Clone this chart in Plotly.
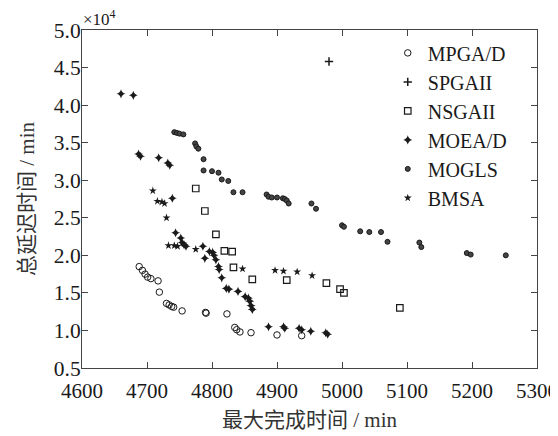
import plotly.graph_objects as go

# Data (y in units of 10^4 min)
mpga_x = [4688, 4693, 4697, 4701, 4706, 4717, 4719, 4730, 4734, 4738, 4741, 4754, 4790, 4791, 4823, 4835, 4838, 4843, 4860, 4900, 4938]
mpga_y = [1.85, 1.80, 1.75, 1.71, 1.69, 1.66, 1.51, 1.36, 1.34, 1.32, 1.31, 1.26, 1.24, 1.23, 1.22, 1.04, 1.01, 0.98, 0.97, 0.94, 0.93]

spga_x = [4980]
spga_y = [4.58]

nsga_x = [4775, 4789, 4806, 4819, 4831, 4833, 4862, 4915, 4976, 4997, 5003, 5089]
nsga_y = [2.89, 2.59, 2.28, 2.06, 2.05, 1.84, 1.68, 1.67, 1.63, 1.55, 1.50, 1.30]

moead_x = [4660, 4679, 4687, 4690, 4718, 4732, 4735, 4739, 4744, 4752, 4754, 4757, 4760, 4786, 4796, 4801,
           4789, 4803, 4806, 4810, 4811, 4815, 4822, 4826, 4840, 4851, 4856, 4858, 4860, 4862,
           4887, 4910, 4912, 4934, 4938, 4952, 4975, 4978]
moead_y = [4.15, 4.13, 3.35, 3.32, 3.30, 3.23, 3.20, 2.76, 2.30, 2.23, 2.17, 2.14, 2.12, 2.12, 2.05, 2.04,
           1.96, 2.00, 1.94, 1.85, 1.81, 1.70, 1.56, 1.55, 1.52, 1.45, 1.43, 1.39, 1.33, 1.28,
           1.05, 1.05, 1.03, 1.03, 1.01, 0.99, 0.97, 0.95]

mogls_x = [4742, 4746, 4750, 4756, 4774, 4776, 4779, 4787, 4787, 4800, 4810, 4815, 4825, 4833, 4847,
           4884, 4887, 4892, 4900, 4909, 4912, 4915, 4918, 4953, 4960, 5000, 5003, 5028, 5042, 5060,
           5070, 5119, 5122, 5192, 5198, 5252]
mogls_y = [3.64, 3.63, 3.62, 3.61, 3.49, 3.45, 3.42, 3.28, 3.13, 3.12, 3.10, 3.01, 2.99, 2.84, 2.84,
           2.81, 2.78, 2.77, 2.77, 2.76, 2.75, 2.73, 2.69, 2.69, 2.62, 2.40, 2.38, 2.32, 2.31, 2.31,
           2.18, 2.17, 2.11, 2.03, 2.01, 2.00]

bmsa_x = [4709, 4716, 4723, 4727, 4730, 4733, 4742, 4747, 4775, 4847, 4897, 4910, 4931, 4954]
bmsa_y = [2.86, 2.72, 2.71, 2.69, 2.50, 2.13, 2.13, 2.12, 2.08, 1.82, 1.80, 1.79, 1.78, 1.73]

x_ticks = [4600, 4700, 4800, 4900, 5000, 5100, 5200, 5300]
y_ticks = [0.5, 1.0, 1.5, 2.0, 2.5, 3.0, 3.5, 4.0, 4.5, 5.0]

FONT = "Liberation Serif, Times New Roman, Noto Sans CJK SC, serif"
INK = "#1a1a1a"

fig = go.Figure()
fig.add_trace(go.Scatter(x=mpga_x, y=mpga_y, mode="markers", name="MPGA/D",
                         marker=dict(symbol="circle-open", size=6.5, color=INK, line=dict(width=1, color=INK))))
fig.add_trace(go.Scatter(x=spga_x, y=spga_y, mode="markers", name="SPGAII",
                         marker=dict(symbol="cross-thin-open", size=6, color=INK, line=dict(width=1.5, color=INK))))
fig.add_trace(go.Scatter(x=nsga_x, y=nsga_y, mode="markers", name="NSGAII",
                         marker=dict(symbol="square-open", size=6.5, color=INK, line=dict(width=1.2, color=INK))))
fig.add_trace(go.Scatter(x=moead_x, y=moead_y, mode="markers", name="MOEA/D",
                         marker=dict(symbol="star-diamond", size=6.5, color=INK, line=dict(width=0))))
fig.add_trace(go.Scatter(x=mogls_x, y=mogls_y, mode="markers", name="MOGLS",
                         marker=dict(symbol="circle", size=5, color="#444", line=dict(width=1, color=INK))))
fig.add_trace(go.Scatter(x=bmsa_x, y=bmsa_y, mode="markers", name="BMSA",
                         marker=dict(symbol="star", size=6, color=INK, line=dict(width=0))))

axis_common = dict(showline=True, linecolor="#444", linewidth=1, mirror="ticks",
                   ticks="inside", ticklen=6, tickcolor="#444", tickwidth=1,
                   showgrid=False, zeroline=False, automargin=False,
                   ticklabeloverflow="allow")

fig.update_xaxes(range=[4600, 5300], tickvals=x_ticks, ticktext=[str(v) for v in x_ticks],
                 tickfont=dict(family=FONT, size=21, color=INK), ticklabelstandoff=4,
                 title=dict(text="最大完成时间 / min", font=dict(family=FONT, size=21, color="#333"), standoff=10),
                 **axis_common)
fig.update_yaxes(range=[0.5, 5.0], tickvals=y_ticks, ticktext=[f"{v:.1f}" for v in y_ticks],
                 tickfont=dict(family=FONT, size=21.5, color=INK), ticklabelstandoff=-4,
                 title=dict(text="总延迟时间 / min", font=dict(family=FONT, size=21, color="#333"), standoff=13),
                 **axis_common)

fig.add_annotation(text="×10<sup>4</sup>", xref="paper", yref="paper", x=0, y=1.0,
                   xanchor="left", yanchor="middle", showarrow=False, xshift=-1, yshift=12,
                   font=dict(family=FONT, size=17, color=INK))

# page body adds an 8px margin, so the figure is 550x428 inside the 558x436 window
fig.update_layout(
    width=550, height=428,
    margin=dict(l=74, r=21, t=22, b=68),
    paper_bgcolor="white", plot_bgcolor="white",
    showlegend=True,
    legend=dict(x=0.672, y=0.99, xanchor="left", yanchor="top",
                bgcolor="rgba(0,0,0,0)", borderwidth=0,
                font=dict(family=FONT, size=20, color=INK),
                itemwidth=30, tracegroupgap=0),
)

fig.write_html("out.html")
